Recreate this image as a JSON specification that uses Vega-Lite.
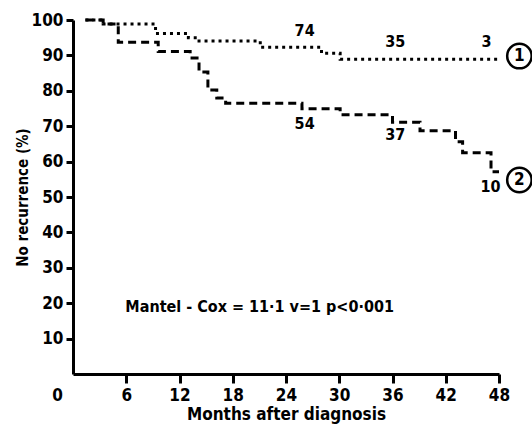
{
  "$schema": "https://vega.github.io/schema/vega-lite/v6.json",
  "autosize": {"type": "none"},
  "width": 426,
  "height": 354,
  "padding": {"left": 73, "top": 20, "right": 33, "bottom": 55},
  "background": "white",
  "config": {
    "view": {"stroke": null},
    "font": "DejaVu Sans Condensed",
    "axis": {"grid": false, "domainColor": "black", "domainWidth": 3, "tickColor": "black", "tickWidth": 3,
      "labelFont": "DejaVu Sans Condensed", "labelFontWeight": "bold", "labelFontSize": 17, "labelColor": "black",
      "labelOverlap": false,
      "titleFont": "DejaVu Sans Condensed", "titleFontWeight": "bold", "titleFontSize": 16, "titleColor": "black"}
  },
  "datasets": {
    "curves": [
      {"month": 1.4, "pct": 100, "group": "1"},
      {"month": 3.4, "pct": 98.9, "group": "1"},
      {"month": 9.3, "pct": 96.2, "group": "1"},
      {"month": 13.0, "pct": 95.0, "group": "1"},
      {"month": 14.2, "pct": 94.1, "group": "1"},
      {"month": 21.1, "pct": 92.3, "group": "1"},
      {"month": 28.0, "pct": 90.6, "group": "1"},
      {"month": 30.1, "pct": 88.9, "group": "1"},
      {"month": 48.0, "pct": 88.9, "group": "1"},
      {"month": 1.4, "pct": 100, "group": "2"},
      {"month": 3.4, "pct": 98.9, "group": "2"},
      {"month": 5.1, "pct": 93.7, "group": "2"},
      {"month": 9.6, "pct": 91.1, "group": "2"},
      {"month": 13.2, "pct": 89.3, "group": "2"},
      {"month": 14.2, "pct": 85.3, "group": "2"},
      {"month": 15.2, "pct": 80.2, "group": "2"},
      {"month": 16.2, "pct": 78.0, "group": "2"},
      {"month": 17.2, "pct": 76.5, "group": "2"},
      {"month": 25.8, "pct": 74.9, "group": "2"},
      {"month": 30.1, "pct": 73.2, "group": "2"},
      {"month": 36.0, "pct": 71.1, "group": "2"},
      {"month": 39.1, "pct": 68.7, "group": "2"},
      {"month": 43.1, "pct": 65.6, "group": "2"},
      {"month": 43.9, "pct": 62.5, "group": "2"},
      {"month": 47.1, "pct": 57.1, "group": "2"},
      {"month": 48.0, "pct": 57.1, "group": "2"}
    ],
    "atrisk": [
      {"month": 26.1, "pct": 96.9, "label": "74"},
      {"month": 36.3, "pct": 93.8, "label": "35"},
      {"month": 46.6, "pct": 93.8, "label": "3"},
      {"month": 26.1, "pct": 70.5, "label": "54"},
      {"month": 36.3, "pct": 67.5, "label": "37"},
      {"month": 47.05, "pct": 52.7, "label": "10"}
    ],
    "circles": [
      {"month": 50.3, "pct": 89.8, "label": "1"},
      {"month": 50.3, "pct": 54.8, "label": "2"}
    ],
    "note": [
      {"month": 5.9, "pct": 19.0, "label": "Mantel - Cox = 11·1 v=1 p<0·001"}
    ]
  },
  "layer": [
    {
      "data": {"name": "curves"},
      "mark": {"type": "line", "interpolate": "step-after", "color": "black", "strokeWidth": 3, "strokeCap": "butt"},
      "encoding": {
        "x": {"field": "month", "type": "quantitative", "scale": {"domain": [0, 48], "nice": false},
          "axis": {"values": [0, 6, 12, 18, 24, 30, 36, 42, 48], "tickCount": 12, "title": "Months after diagnosis", "titlePadding": 3, "titleFontSize": 17,
            "tickSize": 9,
            "tickOpacity": {"condition": {"test": "datum.value === 0", "value": 0}, "value": 1},
            "labelOffset": {"condition": {"test": "datum.value === 0", "value": -16}, "value": 0},
            "labelPadding": 4, "labelFlush": false}},
        "y": {"field": "pct", "type": "quantitative", "scale": {"domain": [0, 100], "nice": false},
          "axis": {"values": [10, 20, 30, 40, 50, 60, 70, 80, 90, 100], "tickCount": 12, "title": "No recurrence (%)", "titleFontSize": 15, "tickSize": 7, "labelPadding": 3, "titlePadding": 1}},
        "strokeDash": {"field": "group", "type": "nominal", "legend": null,
          "scale": {"domain": ["1", "2"], "range": [[3, 4], [8, 5]]}},
        "detail": {"field": "group"}
      }
    },
    {
      "data": {"name": "atrisk"},
      "mark": {"type": "text", "font": "DejaVu Sans Condensed", "fontWeight": "bold", "fontSize": 16, "color": "black"},
      "encoding": {
        "x": {"field": "month", "type": "quantitative"},
        "y": {"field": "pct", "type": "quantitative"},
        "text": {"field": "label"}
      }
    },
    {
      "data": {"name": "circles"},
      "mark": {"type": "point", "shape": "circle", "size": 600, "filled": false, "stroke": "black", "strokeWidth": 2.5, "opacity": 1},
      "encoding": {
        "x": {"field": "month", "type": "quantitative"},
        "y": {"field": "pct", "type": "quantitative"}
      }
    },
    {
      "data": {"name": "circles"},
      "mark": {"type": "text", "font": "DejaVu Sans Condensed", "fontWeight": "bold", "fontSize": 17, "color": "black"},
      "encoding": {
        "x": {"field": "month", "type": "quantitative"},
        "y": {"field": "pct", "type": "quantitative"},
        "text": {"field": "label"}
      }
    },
    {
      "data": {"name": "note"},
      "mark": {"type": "text", "align": "left", "font": "DejaVu Sans Condensed", "fontWeight": "bold", "fontSize": 16, "color": "black"},
      "encoding": {
        "x": {"field": "month", "type": "quantitative"},
        "y": {"field": "pct", "type": "quantitative"},
        "text": {"field": "label"}
      }
    }
  ]
}
